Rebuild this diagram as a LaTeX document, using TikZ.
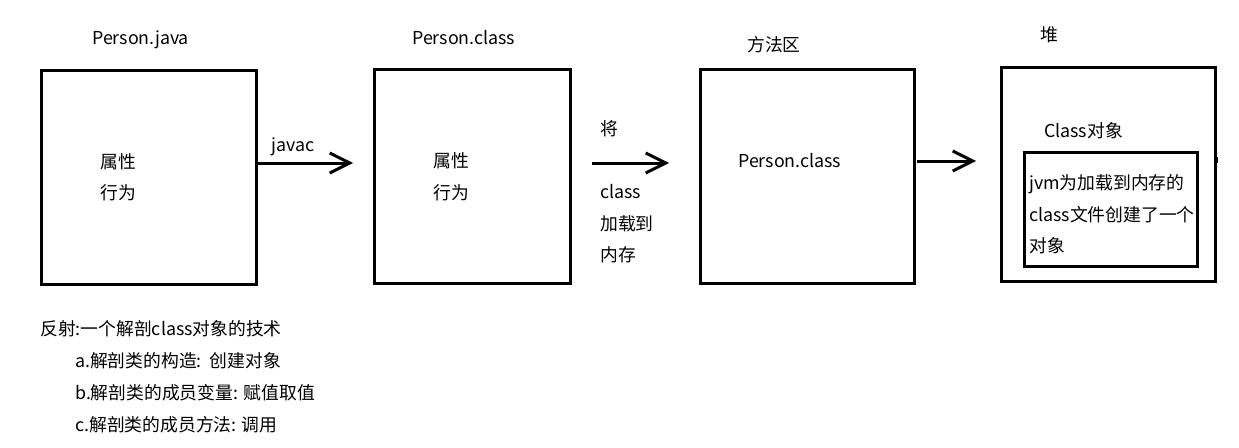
\documentclass[tikz,border=0pt]{standalone}
\usepackage{fontspec}
\setmainfont{Noto Sans CJK SC}
\usetikzlibrary{arrows.meta}
\begin{document}
\begin{tikzpicture}[x=1pt,y=-1pt,
  box/.style={draw=black,line width=3pt,inner sep=0pt,anchor=north west},
  lbl/.style={inner sep=0pt,anchor=west,font=\fontsize{17.8}{21}\selectfont},
  arr/.style={line width=3pt,-{Straight Barb[length=20pt,width=20pt,line width=3pt]}}]
\useasboundingbox (0,0) rectangle (1239,447);
% boxes
\node[box,minimum width=215pt,minimum height=214pt] (b1) at (40,69) {};
\node[box,minimum width=196pt,minimum height=214pt] (b2) at (373,68) {};
\node[box,minimum width=214pt,minimum height=214pt] (b3) at (699,68) {};
\node[box,minimum width=214pt,minimum height=214pt] (b4) at (1000,66) {};
\node[box,minimum width=173pt,minimum height=114pt] (b5) at (1023,151) {};
% titles
\node[lbl] (t1) at (92,40) {Person.java};
\node[lbl] (t2) at (412,38) {Person.class};
\node[lbl] (t3) at (747,45) {方法区};
\node[lbl] (t4) at (1040,35) {堆};
% box contents
\node[lbl] (p1) at (100,162) {属性};
\node[lbl] (p2) at (100,193) {行为};
\node[lbl] (q1) at (433,161) {属性};
\node[lbl] (q2) at (433,193) {行为};
\node[lbl] (r1) at (738,161) {Person.class};
\node[lbl] (s0) at (1044,131) {Class对象};
\node[lbl] (s1) at (1029,184) {jvm为加载到内存的};
\node[lbl] (s2) at (1029,215) {class文件创建了一个};
\node[lbl] (s3) at (1029,246) {对象};
% arrow labels
\node[lbl] (j) at (271,147) {javac};
\node[lbl] (k1) at (600,129) {将};
\node[lbl] (k2) at (600,192) {class};
\node[lbl] (k3) at (600,224) {加载到};
\node[lbl] (k4) at (600,255) {内存};
% arrows
\coordinate (a1s) at (258,163); \coordinate (a1e) at (353,163);
\coordinate (a2s) at (592,163); \coordinate (a2e) at (669,163);
\coordinate (a3s) at (917,161); \coordinate (a3e) at (976,161);
\draw[arr] (a1s) -- (a1e);
\draw[arr] (a2s) -- (a2e);
\draw[arr] (a3s) -- (a3e);
% tick
\coordinate (m1) at (1217,157); \coordinate (m2) at (1217,163);
\draw[line width=0.8pt] (m1) -- (m2);
% bottom text
\node[lbl] (n0) at (40,329) {反射:一个解剖class对象的技术};
\node[lbl] (n1) at (75,361) {a.解剖类的构造:~~创建对象};
\node[lbl] (n2) at (75,393) {b.解剖类的成员变量: 赋值取值};
\node[lbl] (n3) at (75,425) {c.解剖类的成员方法: 调用};
\end{tikzpicture}
\end{document}
